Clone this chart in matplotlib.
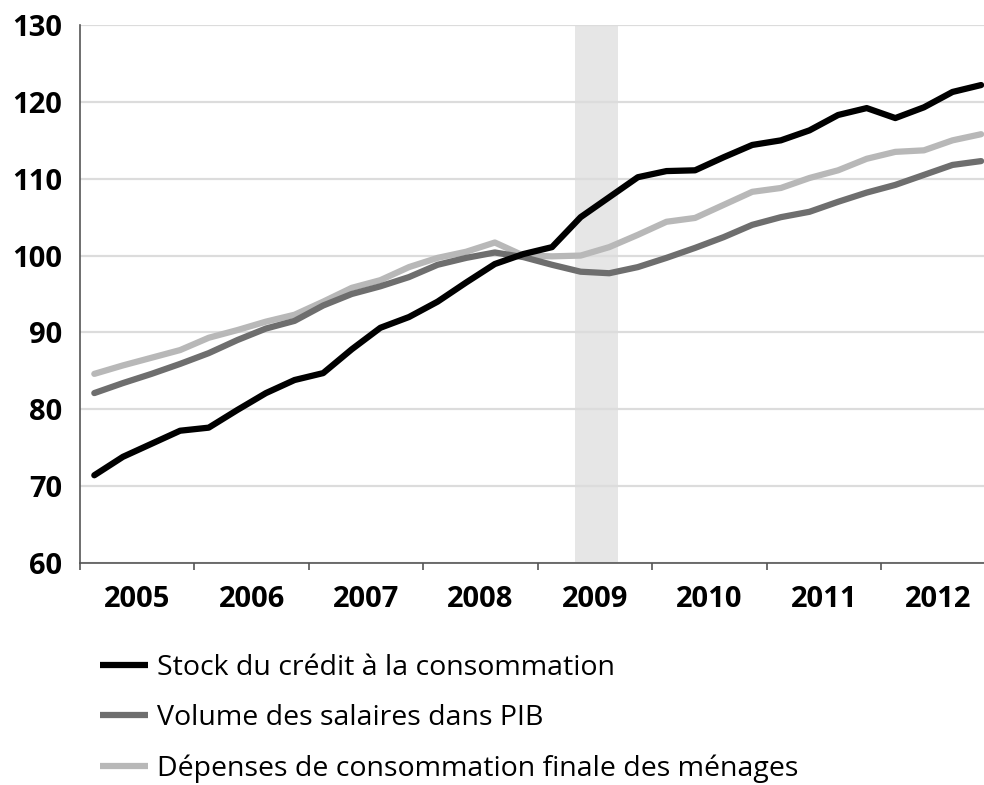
import numpy as np
import matplotlib
matplotlib.use("Agg")
import matplotlib.pyplot as plt

plt.rcParams['font.family'] = ['Open Sans', 'DejaVu Sans']

# quarterly data 2005Q1 .. 2012Q4
years = ["2005", "2006", "2007", "2008", "2009", "2010", "2011", "2012"]

credit = [71.4, 73.8, 75.5, 77.2, 77.6, 79.9, 82.1, 83.8,
          84.7, 87.8, 90.6, 92.0, 94.0, 96.5, 98.9, 100.2,
          101.1, 105.0, 107.6, 110.2, 111.0, 111.1, 112.8, 114.4,
          115.0, 116.3, 118.3, 119.2, 117.9, 119.3, 121.3, 122.2]

salaires = [82.1, 83.4, 84.6, 85.9, 87.3, 89.0, 90.5, 91.5,
            93.5, 95.0, 96.0, 97.2, 98.8, 99.7, 100.4, 99.8,
            98.8, 97.9, 97.7, 98.5, 99.7, 101.0, 102.4, 104.0,
            105.0, 105.7, 107.0, 108.2, 109.2, 110.5, 111.8, 112.3]

depenses = [84.6, 85.7, 86.7, 87.7, 89.3, 90.3, 91.4, 92.3,
            94.0, 95.8, 96.8, 98.5, 99.7, 100.5, 101.7, 100.0,
            99.9, 100.0, 101.1, 102.7, 104.4, 104.9, 106.6, 108.3,
            108.8, 110.1, 111.1, 112.6, 113.5, 113.7, 115.0, 115.8]

labels = ["Stock du crédit à la consommation",
          "Volume des salaires dans PIB",
          "Dépenses de consommation finale des ménages"]

# recession band (in quarter units)
band = (17.3, 18.8)

fig = plt.figure(figsize=(9.84, 7.85), dpi=100)
ax = fig.add_axes([0.0813, 0.283, 0.9187, 0.685])

x = np.arange(len(credit)) + 0.5

ax.axvspan(band[0], band[1], color="#e6e6e6", zorder=0, lw=0)

l1, = ax.plot(x, credit, color="black", lw=4.5, solid_capstyle="round", zorder=3)
l2, = ax.plot(x, salaires, color="#6e6e6e", lw=4.5, solid_capstyle="round", zorder=2)
l3, = ax.plot(x, depenses, color="#b8b8b8", lw=4.5, solid_capstyle="round", zorder=1)

ax.set_ylim(60, 130)
ax.set_xlim(0, 31.6)
ax.set_yticks(range(60, 131, 10))
ax.grid(axis="y", color="#dcdcdc", lw=1.6, zorder=0)
ax.set_axisbelow(True)

ax.set_xticks(range(0, 32, 4))
ax.set_xticklabels([])
ax.set_xticks(np.arange(len(years)) * 4 + 2, minor=True)
ax.set_xticklabels(years, minor=True)
ax.tick_params(axis="x", which="major", length=5, width=1.2, color="#555555")
ax.tick_params(axis="x", which="minor", length=0, pad=16)
ax.tick_params(axis="y", length=0, pad=13)
for lab in ax.get_xticklabels(minor=True) + ax.get_yticklabels():
    lab.set_fontsize(21)
    lab.set_fontweight("bold")

for s in ["top", "right"]:
    ax.spines[s].set_visible(False)
ax.spines["left"].set_color("#555555")
ax.spines["bottom"].set_color("#555555")
ax.spines["left"].set_linewidth(1.2)
ax.spines["bottom"].set_linewidth(1.2)

leg = fig.legend([l1, l2, l3], labels, loc="upper left",
                 bbox_to_anchor=(0.1016, 0.167), frameon=False, fontsize=20.5,
                 handlelength=1.68, handletextpad=0.32, labelspacing=0.79,
                 borderpad=0, borderaxespad=0)
for h in leg.legend_handles:
    h.set_solid_capstyle("butt")

fig.savefig("out.png", dpi=100)
